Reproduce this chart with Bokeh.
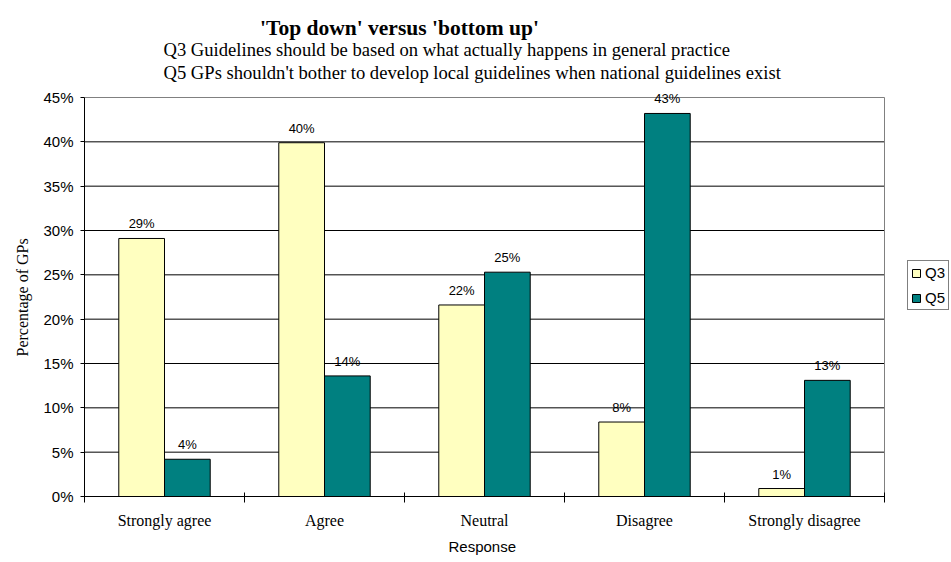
from bokeh.plotting import figure
from bokeh.models import (ColumnDataSource, FixedTicker, Legend, LegendItem, Label,
                          LabelSet, Range1d, PrintfTickFormatter, Title)
from bokeh.core.properties import value
from bokeh.embed import file_html
from bokeh.resources import INLINE

# Survey responses (percentage of GPs) for the two questions
responses = ["Strongly agree", "Agree", "Neutral", "Disagree", "Strongly disagree"]
q3_pct = [29.1, 39.9, 21.6, 8.4, 0.9]
q5_pct = [4.2, 13.6, 25.3, 43.2, 13.1]
series_names = ["Q3", "Q5"]
series_colors = ["#FFFFC0", "#008080"]
y_ticks = [0, 5, 10, 15, 20, 25, 30, 35, 40, 45]

title_text = "'Top down' versus 'bottom up'"
subtitle_lines = [
    "Q3 Guidelines should be based on what actually happens in general practice",
    "Q5 GPs shouldn't bother to develop local guidelines when national guidelines exist",
]
x_title = "Response"
y_title = "Percentage of GPs"

# page geometry (pixels)
W, H = 951, 562
LEFT, BOTTOM = 84, 66
GROUP_PX = 160          # width of one response group
PLOT_PX = 399           # height of the 0..45% plot area

n = len(responses)
y_max = y_ticks[-1]
bar_w = 1 / 3.5  # two bars per group, gap of 1.5 bar widths
centers = [i + 0.5 for i in range(n)]

frame_w = W - LEFT
frame_h = H - BOTTOM

# The frame spans the whole page above/right of the axes so that the
# titles, legend and data labels are not clipped; the chart area itself
# is bounded to 0..n groups and 0..45 %.
p = figure(width=W, height=H, output_backend="svg", toolbar_location=None, tools="",
           title=None,
           x_range=Range1d(0, frame_w / GROUP_PX),
           y_range=Range1d(0, y_max * frame_h / PLOT_PX),
           min_border_left=LEFT, min_border_right=0, min_border_top=0,
           min_border_bottom=BOTTOM)
p.background_fill_color = "white"
p.border_fill_color = "white"
p.outline_line_color = None
p.xgrid.visible = False
p.ygrid.visible = False

# horizontal gridlines and the grey plot-area border
grid_y = y_ticks[1:-1]
p.segment(x0=[0] * len(grid_y), x1=[n] * len(grid_y), y0=grid_y, y1=grid_y,
          line_color="black", line_width=1)
p.segment(x0=[0, n], x1=[n, n], y0=[y_max, 0], y1=[y_max, y_max],
          line_color="#808080", line_width=1)

renderers = []
for k, (vals, color) in enumerate(zip([q3_pct, q5_pct], series_colors)):
    offset = (k - 0.5) * bar_w
    src = ColumnDataSource(dict(
        x=[c + offset for c in centers],
        top=vals,
        label=[f"{round(v)}%" for v in vals],
    ))
    r = p.vbar(x="x", top="top", bottom=0, width=bar_w, source=src,
               fill_color=color, line_color="black", line_width=1)
    renderers.append(r)
    p.add_layout(LabelSet(x="x", y="top", text="label", source=src, y_offset=10,
                          text_align="center", text_baseline="alphabetic",
                          text_font=value("Liberation Sans"), text_font_size=value("13px"),
                          text_color="black"))

# x axis: labels at group centres, tick marks between groups
xa = p.xaxis[0]
xa.bounds = (0, n)
xa.ticker = FixedTicker(ticks=centers, minor_ticks=list(range(n + 1)))
xa.major_label_overrides = {c: name for c, name in zip(centers, responses)}
xa.major_tick_in = 0
xa.major_tick_out = 0
xa.minor_tick_in = 4
xa.minor_tick_out = 6
xa.minor_tick_line_color = "black"
xa.axis_line_color = "black"
xa.major_label_text_font = "Liberation Serif"
xa.major_label_text_font_size = "16px"
xa.major_label_text_color = "black"
xa.major_label_standoff = 9

ya = p.yaxis[0]
ya.bounds = (0, y_max)
ya.ticker = FixedTicker(ticks=y_ticks, minor_ticks=[])
ya.formatter = PrintfTickFormatter(format="%d%%")
ya.major_tick_in = 0
ya.major_tick_out = 4
ya.major_tick_line_color = "black"
ya.axis_line_color = "black"
ya.major_label_text_font = "Liberation Sans"
ya.major_label_text_font_size = "15px"
ya.major_label_text_color = "black"
ya.major_label_standoff = 7

# axis titles, anchored at their start and shifted to centre on the chart area
p.add_layout(Title(text=x_title, align="left", offset=364, vertical_align="bottom",
                   standoff=8, text_font="Liberation Sans", text_font_size="15px",
                   text_font_style="normal", text_color="black"), "below")
p.add_layout(Title(text=y_title, align="left", offset=140, vertical_align="top",
                   standoff=16, text_font="Liberation Serif", text_font_size="16px",
                   text_font_style="normal", text_color="black"), "left")

# titles, positioned in screen pixels from the frame's lower-left corner
p.add_layout(Label(x=315, y=469, x_units="screen", y_units="screen", text=title_text,
                   text_font="Liberation Serif", text_font_size="21.5px",
                   text_font_style="bold", text_align="center",
                   text_baseline="alphabetic", text_color="black"))
for line, y in zip(subtitle_lines, [447, 424]):
    p.add_layout(Label(x=79, y=y, x_units="screen", y_units="screen", text=line,
                       text_font="Liberation Serif", text_font_size="18.6px",
                       text_align="left", text_baseline="alphabetic", text_color="black"))

legend = Legend(
    items=[LegendItem(label=name, renderers=[r]) for name, r in zip(series_names, renderers)],
    location=(823, 186), orientation="vertical",
    border_line_color="black", border_line_width=1, background_fill_color="white",
    background_fill_alpha=1.0,
    label_text_font="Liberation Sans", label_text_font_size="15px", label_text_color="black",
    glyph_width=10, glyph_height=10, label_height=10, label_standoff=4,
    spacing=8, padding=3, margin=0,
)
p.add_layout(legend)

open("out.html", "w").write(file_html(p, INLINE))
